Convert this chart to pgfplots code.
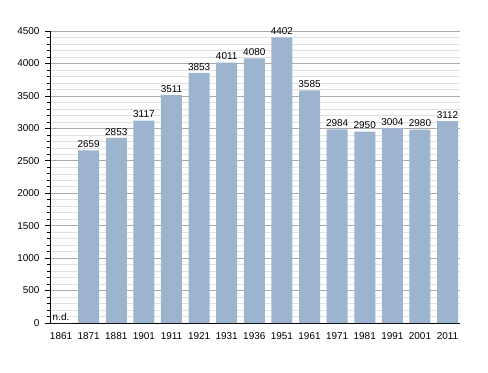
\documentclass[border=0pt]{standalone}
\usepackage{pgfplots}
\pgfplotsset{compat=1.18}
\usepackage{pgfplotstable}
\usepackage{fontspec}
\setmainfont{Liberation Sans}
\definecolor{barc}{RGB}{157,180,207}
\definecolor{majg}{RGB}{170,170,170}
\definecolor{ming}{RGB}{225,225,225}
\pgfplotstableread{
x val lab
0 0 n.d.
1 2659 2659
2 2853 2853
3 3117 3117
4 3511 3511
5 3853 3853
6 4011 4011
7 4080 4080
8 4402 4402
9 3585 3585
10 2984 2984
11 2950 2950
12 3004 3004
13 2980 2980
14 3112 3112
}\datatable
\begin{document}
\begin{tikzpicture}
\begin{axis}[
  name=ax,
  scale only axis,
  width=410bp, height=292bp,
  xmin=-0.4, xmax=14.45,
  ymin=0, ymax=4500,
  axis x line*=bottom, axis y line*=left,
  axis line style={black, line width=0.8pt},
  xtick={0,...,14},
  xticklabels={1861,1871,1881,1901,1911,1921,1931,1936,1951,1961,1971,1981,1991,2001,2011},
  x tick style={draw=none},
  ytick={0,500,...,4500},
  minor y tick num=4,
  ymajorgrids, yminorgrids,
  major grid style={majg, line width=0.6pt},
  minor grid style={ming, line width=0.5pt},
  y tick style={black, line width=0.6pt},
  major tick length=5bp, minor tick length=3bp,
  tick align=outside,
  tick label style={font=\fontsize{10}{12}\selectfont},
  /pgf/number format/assume math mode=true,
  /pgf/number format/1000 sep={},
  yticklabel style={xshift=-2bp},
  xticklabel style={yshift=-1bp},
  axis on top=false,
  clip=false,
]
\addplot[ybar, bar width=21bp, fill=barc, draw=none,
  nodes near coords, point meta=explicit symbolic,
  every node near coord/.append style={font=\fontsize{10}{12}\selectfont, black, inner sep=2.5bp}]
  table[x=x, y=val, meta=lab] {\datatable};
\end{axis}
\path[use as bounding box] ([xshift=-50bp,yshift=-50bp]ax.south west) rectangle ([xshift=28bp,yshift=31bp]ax.north east);
\end{tikzpicture}
\end{document}
